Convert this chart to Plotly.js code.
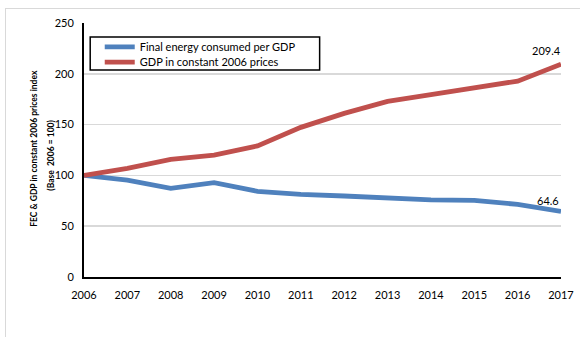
<!DOCTYPE html>
<html>
<head>
<meta charset="utf-8">
<script src="https://cdn.plot.ly/plotly-3.0.1.min.js"></script>
<style>
  html, body { margin: 0; padding: 0; background: #fff; }
  #wrap { position: relative; width: 580px; height: 337px; overflow: hidden; }
  #frame { position: absolute; left: 5px; top: 8px; width: 600px; height: 400px;
           border-left: 1.5px solid #d9d9d9; border-top: 1.5px solid #d9d9d9; }
  #chart { position: absolute; left: 0; top: 0; width: 580px; height: 337px; }
</style>
</head>
<body>
<div id="wrap">
  <div id="frame"></div>
  <div id="chart"></div>
</div>
<script>
// Index series, base year 2006 = 100
const years = [2006, 2007, 2008, 2009, 2010, 2011, 2012, 2013, 2014, 2015, 2016, 2017];
const fecPerGdp = [100, 95.4, 87.2, 92.8, 84.3, 81.3, 79.7, 77.7, 76.0, 75.4, 71.5, 64.6];
const gdpConst = [100, 106.9, 115.7, 120.0, 129.0, 147.3, 161.0, 172.8, 179.6, 186.5, 192.8, 209.4];
const seriesNames = ['Final energy consumed per GDP', 'GDP in constant 2006 prices'];
const yTicks = [0, 50, 100, 150, 200, 250];
const yTitleLines = ['FEC &amp; GDP in constant 2006 prices index', '(Base&nbsp;&nbsp;2006 = 100)'];

const FONT = 'Lato, "Open Sans", "Liberation Sans", sans-serif';
const last = years.length - 1;

const traces = [
  { x: years, y: fecPerGdp, name: seriesNames[0], type: 'scatter', mode: 'lines',
    line: { color: '#4f81bd', width: 4.8 }, legend: 'legend' },
  { x: years, y: gdpConst, name: seriesNames[1], type: 'scatter', mode: 'lines',
    line: { color: '#c0504d', width: 4.8 }, legend: 'legend2' }
];

// each series gets its own legend so the two entries sit close together
const legendBase = {
  xanchor: 'left', yanchor: 'middle',
  bgcolor: 'rgba(0,0,0,0)', borderwidth: 0,
  font: { family: FONT, size: 11, color: '#000' }
};

// rotated two-line axis title
const titleFont = { family: FONT, size: 8.5, color: '#000' };
const titlePos = [{ x: -0.1048, y: 0.505 }, { x: -0.068, y: 0.48 }];
const titleAnnotations = yTitleLines.map((line, i) => ({
  xref: 'paper', yref: 'paper', x: titlePos[i].x, y: titlePos[i].y,
  xanchor: 'center', yanchor: 'middle', textangle: -90, showarrow: false,
  text: '<b>' + line + '</b>', font: titleFont
}));

const layout = {
  width: 580, height: 337,
  margin: { l: 84, r: 19, t: 23, b: 60 },
  paper_bgcolor: 'rgba(0,0,0,0)',
  plot_bgcolor: 'rgba(0,0,0,0)',
  font: { family: FONT, size: 11, color: '#000' },
  showlegend: true,
  legend: Object.assign({ x: 0.033, y: 0.906 }, legendBase),
  legend2: Object.assign({ x: 0.033, y: 0.846 }, legendBase),
  xaxis: {
    range: [2006, 2017], tickmode: 'array', tickvals: years,
    ticktext: years.map(String),
    showgrid: false, zeroline: false,
    showline: true, linecolor: '#000', linewidth: 2,
    ticks: '', ticklen: 0, ticklabelstandoff: 7,
    tickfont: { family: FONT, size: 11 }
  },
  yaxis: {
    range: [0, 250], tickmode: 'array', tickvals: yTicks,
    showgrid: true, gridcolor: '#d9d9d9', gridwidth: 1.5,
    zeroline: false,
    showline: true, linecolor: '#000', linewidth: 2,
    ticks: '', ticklen: 0, ticklabelstandoff: 6,
    tickfont: { family: FONT, size: 11 }
  },
  shapes: [
    { type: 'rect', xref: 'paper', yref: 'paper',
      x0: 0.013, x1: 0.494, y0: 0.815, y1: 0.945,
      line: { color: '#000', width: 1.5 }, fillcolor: 'rgba(0,0,0,0)' }
  ],
  annotations: titleAnnotations.concat([
    { x: years[last], y: gdpConst[last], text: gdpConst[last].toFixed(1),
      showarrow: false, xanchor: 'right', yanchor: 'bottom', xshift: 2, yshift: 5,
      font: { family: FONT, size: 11, color: '#000' } },
    { x: years[last], y: fecPerGdp[last], text: fecPerGdp[last].toFixed(1),
      showarrow: false, xanchor: 'right', yanchor: 'bottom', xshift: 0, yshift: 2,
      font: { family: FONT, size: 11, color: '#000' } }
  ])
};

Plotly.newPlot('chart', traces, layout, { displayModeBar: false, staticPlot: true });
</script>
</body>
</html>
